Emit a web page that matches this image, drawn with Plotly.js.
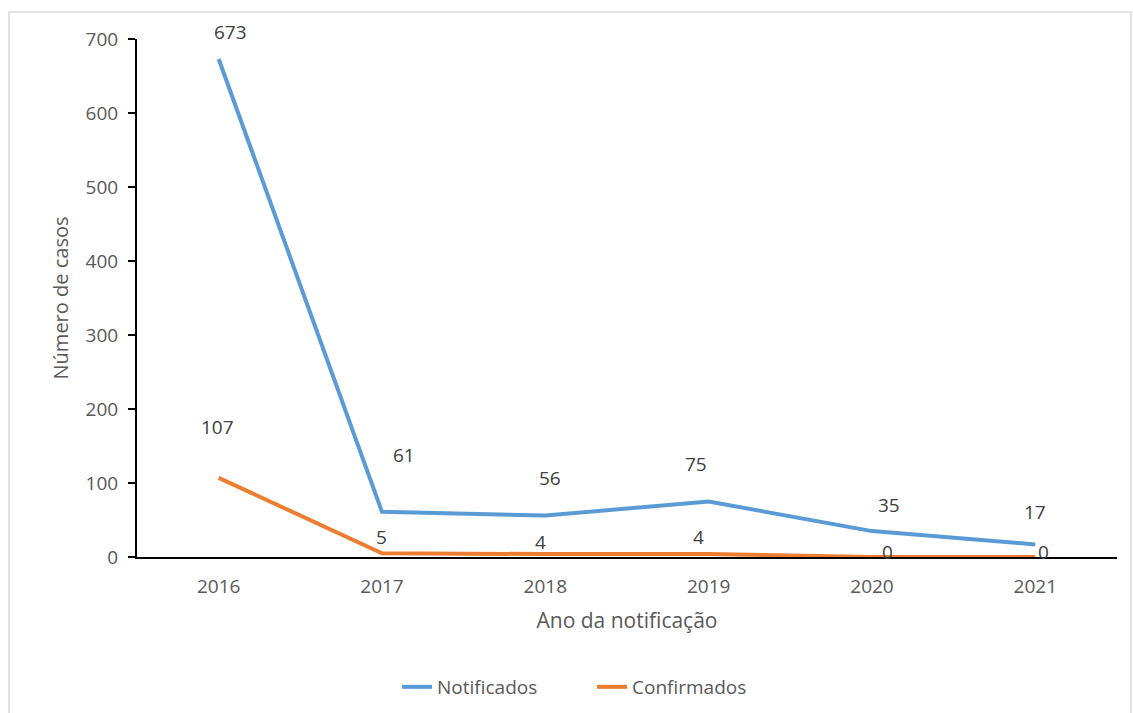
<!DOCTYPE html>
<html><head><meta charset="utf-8">
<script src="https://cdn.plot.ly/plotly-3.0.1.min.js"></script>
<style>html,body{margin:0;padding:0;background:#fff;}#chart{width:1133px;height:713px;}</style>
</head><body><div id="chart"></div>
<script>
const years = ['2016','2017','2018','2019','2020','2021'];
const notificados = [673, 61, 56, 75, 35, 17];
const confirmados = [107, 5, 4, 4, 0, 0];
const yTicks = [0, 100, 200, 300, 400, 500, 600, 700];

// label pixel offsets (style only)
const notifOffsets = [[12,-27],[22,-57],[5,-38],[-13,-38],[17,-26],[0,-32]];
const confOffsets = [[-1,-51],[-1,-16],[-5,-12],[-10,-17],[15,-5],[8,-5]];

const FONT = 'Open Sans, sans-serif';
const txtColor = '#595959';

const traces = [
  {x: years, y: notificados, name: 'Notificados', type: 'scatter', mode: 'lines',
   line: {color: '#5B9BD5', width: 4}, hoverinfo: 'x+y'},
  {x: years, y: confirmados, name: 'Confirmados', type: 'scatter', mode: 'lines',
   line: {color: '#ED7D31', width: 4}, hoverinfo: 'x+y'}
];

const annotations = [];
function addLabels(vals, offs) {
  vals.forEach((v, i) => {
    annotations.push({x: i, y: v, xref: 'x', yref: 'y', text: String(v),
      showarrow: false, xshift: offs[i][0], yshift: -offs[i][1],
      font: {family: FONT, size: 19, color: '#404040'}});
  });
}
addLabels(notificados, notifOffsets);
addLabels(confirmados, confOffsets);

const layout = {
  width: 1133, height: 713,
  margin: {l: 137, r: 16, t: 39, b: 156, autoexpand: false},
  paper_bgcolor: '#ffffff', plot_bgcolor: '#ffffff',
  showlegend: true,
  legend: {orientation: 'h', xref: 'container', yref: 'container',
    x: 592/1133, xanchor: 'center', y: 1 - 687/713, yanchor: 'middle',
    font: {family: FONT, size: 19, color: txtColor}, entrywidth: 150, entrywidthmode: 'pixels', tracegroupgap: 0},
  xaxis: {type: 'category', range: [-0.5, 5.5], showgrid: false, zeroline: false, automargin: false,
    showline: true, linecolor: '#000', linewidth: 2, ticks: '',
    tickfont: {family: FONT, size: 19, color: txtColor}, ticklabelstandoff: 11,
    title: {text: 'Ano da notificação', font: {family: FONT, size: 21, color: txtColor}, standoff: 16}},
  yaxis: {range: [0, 700], tickvals: yTicks, showgrid: false, zeroline: false, automargin: false,
    showline: true, linecolor: '#000', linewidth: 2, ticks: 'outside', ticklen: 7,
    tickcolor: '#000', tickwidth: 2,
    tickfont: {family: FONT, size: 19, color: txtColor}, ticklabelstandoff: 6,
    title: {text: 'Número de casos', font: {family: FONT, size: 20, color: txtColor}, standoff: 12}},
  annotations: annotations,
  shapes: [{type: 'rect', xref: 'paper', yref: 'paper',
    x0: (9-137)/980, x1: (1131-137)/980, y0: (557-720)/518, y1: (557-12)/518,
    line: {color: '#d9d9d9', width: 1.5}, fillcolor: 'rgba(0,0,0,0)', layer: 'below'}]
};

Plotly.newPlot('chart', traces, layout, {displayModeBar: false, staticPlot: true});
</script></body></html>
